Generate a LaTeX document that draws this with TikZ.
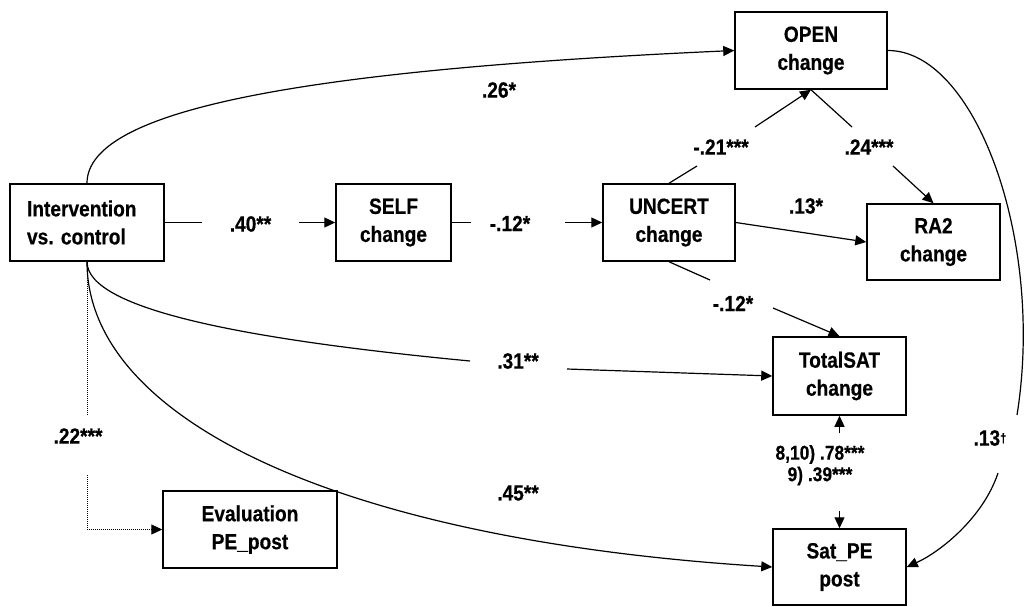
\documentclass[tikz,border=0pt]{standalone}
\usepackage{fontspec}
\setmainfont{Liberation Sans}[FakeStretch=0.87, BoldFeatures={FakeBold=0.5}]
\usetikzlibrary{arrows.meta}
\begin{document}
\begin{tikzpicture}[x=1pt,y=-1pt,
  every node/.style={font=\bfseries\fontsize{22pt}{28pt}\selectfont},
  box/.style={draw, line width=1.5pt, inner sep=0pt, align=center},
  lbl/.style={inner sep=0pt},
  small/.style={lbl, font=\bfseries\fontsize{20pt}{23pt}\selectfont},
  link/.style={line width=1.2pt},
  tip/.style={-{Triangle[length=11pt,width=10pt]}},
  arr/.style={link, tip},
  dots/.style={line width=1pt, dash pattern=on 1pt off 1pt}
]
\useasboundingbox (0,0) rectangle (1030,606);

% variables
\node[box, minimum width=154pt, minimum height=77pt, text width=120pt, align=left] (int) at (87,222.5) {Intervention\\vs.\ control};
\node[box, minimum width=115pt, minimum height=77pt] (self) at (393.5,222.5) {SELF\\change};
\node[box, minimum width=132pt, minimum height=77pt] (unc) at (669,222.5) {UNCERT\\change};
\node[box, minimum width=152pt, minimum height=77pt] (open) at (811,50.5) {OPEN\\change};
\node[box, minimum width=133pt, minimum height=76pt] (ra2) at (933.5,242) {RA2\\change};
\node[box, minimum width=133pt, minimum height=78pt] (tsat) at (839.5,376) {TotalSAT\\change};
\node[box, minimum width=133pt, minimum height=76pt] (satpe) at (839.5,567) {Sat\_PE\\post};
\node[box, minimum width=174pt, minimum height=77pt] (eval) at (250,529.5) {Evaluation\\PE\_post};

% gap ends where coefficients interrupt a path
\coordinate (g40a) at (202,222.5);  \coordinate (g40b) at (299,222.5);
\coordinate (g12a) at (471,222.5);  \coordinate (g12b) at (565,222.5);
\coordinate (g21a) at (697,166);    \coordinate (g21b) at (755,127);
\coordinate (g24a) at (852,127);    \coordinate (g24b) at (893,166);
\coordinate (g12c) at (710,280);    \coordinate (g12d) at (773,308);
\coordinate (g31a) at (470,361);    \coordinate (g31b) at (567,369);
\coordinate (g22a) at (87,415);     \coordinate (g22b) at (87,475);
\coordinate (g78a) at (839.5,433);  \coordinate (g78b) at (839.5,511);
\coordinate (g13a) at (1017,415);   \coordinate (g13b) at (998,473);

% paths
\draw[link] (int.east) -- (g40a);
\draw[arr] (g40b) -- (self.west);
\draw[link] (self.east) -- (g12a);
\draw[arr] (g12b) -- (unc.west);
\draw[link] (unc.north) -- (g21a);
\draw[arr] (g21b) -- (open.south);
\draw[link] (open.south) -- (g24a);
\draw[arr] (g24b) -- (ra2.north);
\draw[arr] (unc.east) -- (ra2.west);
\draw[link] (unc.south) -- (g12c);
\draw[arr] (g12d) -- (tsat.north);
\draw[arr] (int.north) .. controls (87,110) and (300,70) .. (open.west);
\draw[link] (int.south) .. controls (87,310) and (250,340) .. (g31a);
\draw[arr] (g31b) -- (tsat.west);
\draw[arr] (int.south) .. controls (87,420) and (340,540) .. (satpe.west);
\draw[dots] (int.south) -- (g22a);
\draw[dots, tip] (g22b) |- (eval.west);
\draw[arr] (g78a) -- (tsat.south);
\draw[arr] (g78b) -- (satpe.north);
\draw[link] (open.east) .. controls (975,50) and (1045,240) .. (g13a);
\draw[arr] (g13b) .. controls (983,518) and (940,552) .. (satpe.east);

% coefficients
\node[lbl] (l40) at (250.5,224) {.40**};
\node[lbl] (l12a) at (510,223.5) {-.12*};
\node[lbl] (l21) at (721,147) {-.21***};
\node[lbl] (l24) at (869,147) {.24***};
\node[lbl] (l13s) at (806,206) {.13*};
\node[lbl] (l12b) at (733,303.5) {-.12*};
\node[lbl] (l26) at (499,90) {.26*};
\node[lbl] (l31) at (518,361) {.31**};
\node[lbl] (l45) at (518,493) {.45**};
\node[lbl] (l22) at (78,436) {.22***};
\node[small] (l78) at (820,454.5) {8,10) .78***};
\node[small] (l39) at (820,476) {9) .39***};
\node[lbl] (l13) at (990,438) {.13\raisebox{3pt}{\fontsize{13pt}{13pt}\selectfont †}};
\end{tikzpicture}
\end{document}
